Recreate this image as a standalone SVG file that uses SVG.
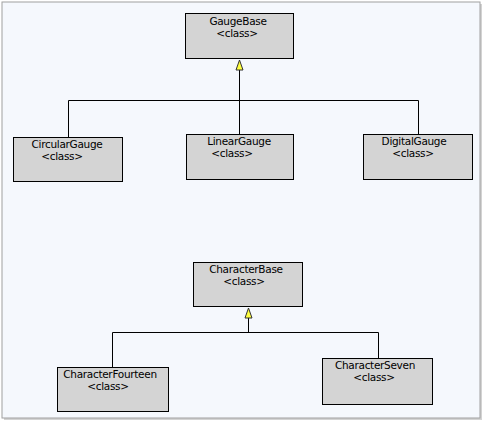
<svg xmlns="http://www.w3.org/2000/svg" width="485" height="424" viewBox="0 0 485 424">
<defs>
<style>
.node rect{fill:#d4d4d4;stroke:#000;stroke-width:1}
.node text{font-family:"DejaVu Sans","Liberation Sans",Arial,sans-serif;font-size:10.5px;fill:#000;text-anchor:middle;letter-spacing:-0.3px}
.conn path{fill:none;stroke:#000;stroke-width:1}
.conn .head{fill:#ffff40;stroke:#333;stroke-width:1}
</style>
</defs>
<rect x="0" y="0" width="485" height="424" fill="#ffffff"/>
<rect x="4" y="4" width="478" height="416" fill="#a8a8a8" opacity="0.5"/>
<rect x="2" y="2" width="478" height="416" fill="#f5f8fd" stroke="#a0a0a0" stroke-width="1"/>
<g id="connectors" class="conn">
<path d="M68.5,137 V100.5 H418.5 V134"/>
<path d="M239.5,134 V68"/>
<path d="M112.5,367 V332.5 H378.5 V358"/>
<path d="M248.5,332.5 V316"/>
<path class="head" d="M239.5,60 L236,70 L243,70 Z"/>
<path class="head" d="M248.5,308 L245,318 L252,318 Z"/>
</g>
<g id="GaugeBase" class="node">
<rect x="185.5" y="13.5" width="108" height="45"/>
<text x="238" y="25">GaugeBase</text>
<text x="237" y="37">&lt;class&gt;</text>
</g>
<g id="CircularGauge" class="node">
<rect x="13.5" y="137.5" width="109" height="44"/>
<text x="67" y="148">CircularGauge</text>
<text x="62" y="160">&lt;class&gt;</text>
</g>
<g id="LinearGauge" class="node">
<rect x="186.5" y="134.5" width="107" height="45"/>
<text x="239" y="145">LinearGauge</text>
<text x="232" y="157">&lt;class&gt;</text>
</g>
<g id="DigitalGauge" class="node">
<rect x="363.5" y="134.5" width="109" height="45"/>
<text x="414" y="145">DigitalGauge</text>
<text x="413" y="157">&lt;class&gt;</text>
</g>
<g id="CharacterBase" class="node">
<rect x="193.5" y="262.5" width="109" height="44"/>
<text x="246" y="273">CharacterBase</text>
<text x="244" y="285">&lt;class&gt;</text>
</g>
<g id="CharacterFourteen" class="node">
<rect x="57.5" y="367.5" width="111" height="44"/>
<text x="110" y="378">CharacterFourteen</text>
<text x="108" y="390">&lt;class&gt;</text>
</g>
<g id="CharacterSeven" class="node">
<rect x="322.5" y="358.5" width="110" height="46"/>
<text x="375" y="369">CharacterSeven</text>
<text x="374" y="381">&lt;class&gt;</text>
</g>
</svg>
